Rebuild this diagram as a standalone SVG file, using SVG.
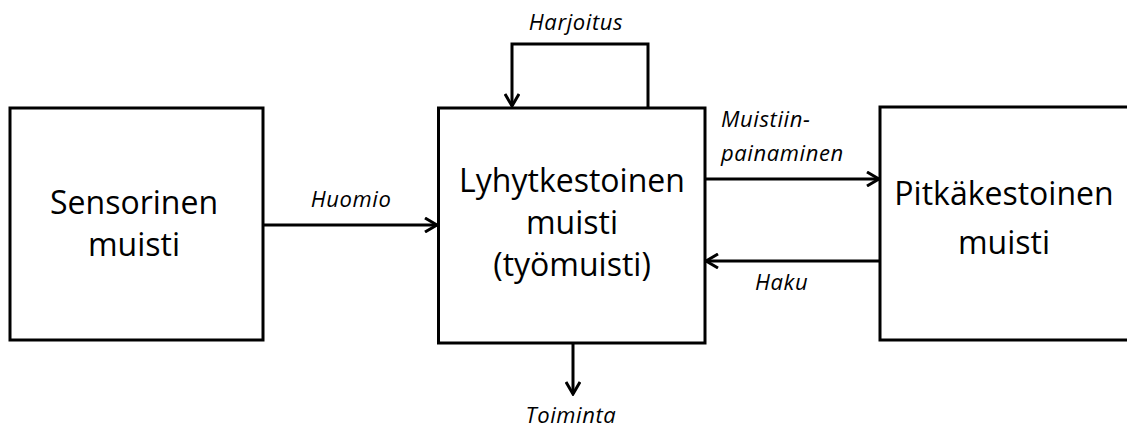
<svg xmlns="http://www.w3.org/2000/svg" width="1127" height="429" viewBox="0 0 1127 429">
<style>
.box{fill:#fff;stroke:#000;stroke-width:3}
.t{font-family:"Open Sans","Liberation Sans",sans-serif;font-size:32px;fill:#000;text-anchor:middle}
.l{font-family:"Open Sans","Liberation Sans",sans-serif;font-size:22px;font-style:italic;fill:#000;letter-spacing:0.6px}
.c{fill:none;stroke:#000;stroke-width:3}
</style>
<defs>
<marker id="ah" viewBox="0 0 16 16" refX="14" refY="8" markerWidth="16" markerHeight="16" markerUnits="userSpaceOnUse" orient="auto">
<path d="M2,1 L14,8 L2,15" fill="none" stroke="#000" stroke-width="3" stroke-linejoin="miter"/>
</marker>
</defs>
<rect width="1127" height="429" fill="#fff"/>
<g id="sensorinen">
<rect class="box" x="10" y="108" width="253" height="232"/>
<text class="t" x="134" y="214">Sensorinen</text>
<text class="t" x="134" y="256">muisti</text>
</g>
<g id="lyhytkestoinen">
<rect class="box" x="438.5" y="108" width="266.5" height="235"/>
<text class="t" x="572" y="192">Lyhytkestoinen</text>
<text class="t" x="572" y="234">muisti</text>
<text class="t" x="572" y="276">(työmuisti)</text>
</g>
<g id="pitkakestoinen">
<rect class="box" x="880" y="107" width="260" height="233"/>
<text class="t" x="1004" y="205">Pitkäkestoinen</text>
<text class="t" x="1004" y="254">muisti</text>
</g>
<g id="connectors">
<line class="c" x1="263" y1="225" x2="437" y2="225" marker-end="url(#ah)"/>
<polyline class="c" points="648,108 648,44 512,44 512,106" marker-end="url(#ah)"/>
<line class="c" x1="705" y1="179" x2="879" y2="179" marker-end="url(#ah)"/>
<line class="c" x1="880" y1="261" x2="706" y2="261" marker-end="url(#ah)"/>
<line class="c" x1="573" y1="343" x2="573" y2="394" marker-end="url(#ah)"/>
</g>
<g id="labels">
<text class="l" x="351" y="207" text-anchor="middle">Huomio</text>
<text class="l" x="576" y="30" text-anchor="middle">Harjoitus</text>
<text class="l" x="721" y="127">Muistiin-</text>
<text class="l" x="721" y="161">painaminen</text>
<text class="l" x="755" y="290">Haku</text>
<text class="l" x="571" y="423" text-anchor="middle">Toiminta</text>
</g>
</svg>
